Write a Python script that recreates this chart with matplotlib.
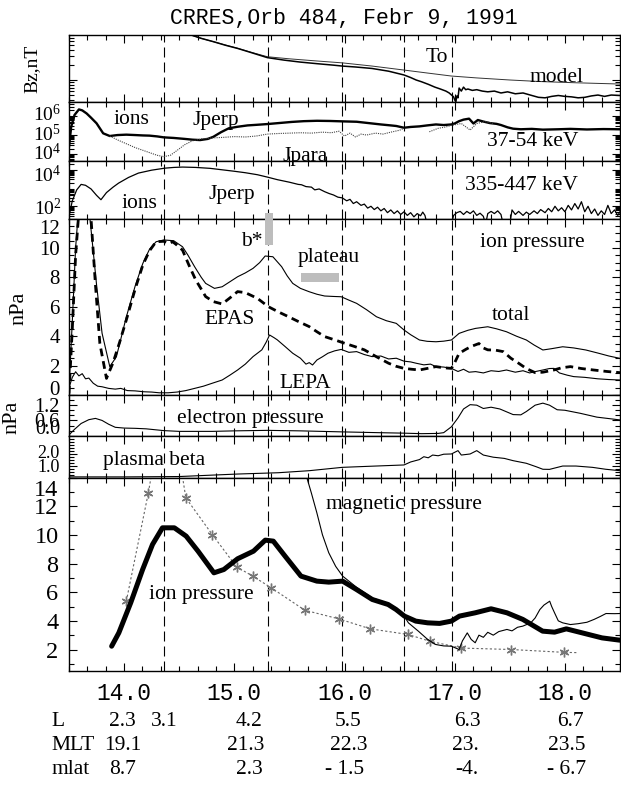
import matplotlib
matplotlib.use("Agg")
import matplotlib.pyplot as plt
import matplotlib.transforms as mtransforms
from matplotlib.patches import Rectangle
from matplotlib.ticker import (MultipleLocator, AutoMinorLocator, FixedLocator,
                               LogLocator, NullFormatter, FixedFormatter)
import numpy as np

plt.rcParams['font.family'] = ['Liberation Serif', 'DejaVu Serif']
plt.rcParams['mathtext.fontset'] = 'custom'
plt.rcParams['mathtext.rm'] = 'Liberation Serif'
plt.rcParams['mathtext.it'] = 'Liberation Serif:italic'
plt.rcParams['mathtext.bf'] = 'Liberation Serif:bold'

NAN = float('nan')

# ---------------- data (UT hours, values) ----------------
event_times = [14.36, 15.31, 15.98, 16.54, 16.98]

bz_model = [(14.60, 805), (14.70, 680), (14.81, 584), (14.92, 500), (15.03, 431), (15.15, 360),
            (15.30, 292), (15.50, 265), (15.75, 240), (15.98, 220), (16.25, 190), (16.54, 158),
            (16.75, 138), (16.97, 120), (17.20, 110), (17.50, 100), (17.78, 93), (18.10, 88),
            (18.50, 83)]
bz_obs = [(14.60, 805), (14.70, 680), (14.81, 584), (14.92, 495), (15.03, 428), (15.15, 355),
          (15.30, 280), (15.45, 250), (15.60, 228), (15.75, 212), (15.90, 198), (15.98, 190),
          (16.10, 182), (16.25, 170), (16.40, 150), (16.54, 126), (16.60, 112), (16.65, 100),
          (16.70, 92), (16.76, 82), (16.82, 72), (16.87, 66), (16.92, 60), (16.95, 55),
          (16.99, 46), (17.00, 40), (17.01, 37), (17.02, 48), (17.03, 44), (17.04, 69),
          (17.06, 60), (17.08, 72), (17.10, 64), (17.12, 66), (17.16, 62), (17.20, 64),
          (17.25, 60), (17.30, 58), (17.36, 60), (17.42, 55), (17.48, 58), (17.55, 53),
          (17.62, 55), (17.70, 49), (17.76, 45), (17.82, 44), (17.88, 47), (17.94, 49),
          (18.00, 47), (18.06, 46), (18.12, 44), (18.18, 45), (18.24, 48), (18.30, 50),
          (18.36, 47), (18.42, 50), (18.50, 49)]

# 37-54 keV ions, log10 flux
jperp_lo = [(13.50, 4.39), (13.52, 5.43), (13.55, 6.04), (13.59, 6.33), (13.62, 6.28), (13.66, 6.12),
            (13.70, 5.9), (13.75, 5.61), (13.81, 5.09), (13.87, 4.95), (13.94, 5.0), (14.02, 5.02),
            (14.10, 5.0), (14.17, 4.98), (14.23, 4.97), (14.30, 4.93), (14.36, 4.88), (14.45, 4.85),
            (14.55, 4.8), (14.62, 4.76), (14.69, 4.74), (14.76, 4.8), (14.81, 4.91), (14.88, 5.15),
            (14.95, 5.35), (15.03, 5.43), (15.12, 5.5), (15.20, 5.53), (15.30, 5.57), (15.40, 5.62),
            (15.52, 5.68), (15.63, 5.72), (15.75, 5.74), (15.87, 5.73), (15.98, 5.71), (16.11, 5.69),
            (16.22, 5.62), (16.33, 5.55), (16.42, 5.5), (16.47, 5.47), (16.54, 5.38), (16.60, 5.42),
            (16.68, 5.45), (16.75, 5.5), (16.83, 5.55), (16.90, 5.52), (16.97, 5.55), (17.00, 5.6),
            (17.04, 5.72), (17.08, 5.8), (17.13, 5.85), (17.17, 5.6), (17.21, 5.78), (17.26, 5.7),
            (17.32, 5.62), (17.38, 5.58), (17.42, 5.52), (17.48, 5.4), (17.53, 5.33), (17.60, 5.3),
            (17.70, 5.32), (17.80, 5.28), (17.94, 5.3), (18.05, 5.32), (18.20, 5.29), (18.35, 5.31),
            (18.50, 5.3)]
jpara_lo = [(13.87, 4.95), (13.94, 4.75), (14.00, 4.6), (14.10, 4.35), (14.20, 4.15), (14.30, 3.95),
            (14.36, 3.88), (14.42, 3.95), (14.48, 4.2), (14.55, 4.5), (14.62, 4.7), (14.70, 4.8),
            (14.80, 4.85), (14.90, 4.88), (15.00, 4.92), (15.10, 4.9), (15.20, 4.95), (15.30, 5.05),
            (15.40, 5.08), (15.50, 5.1), (15.60, 5.12), (15.70, 5.1), (15.80, 5.15), (15.88, 5.12),
            (15.95, 5.2), (16.00, 4.95), (16.05, 5.1), (16.10, 4.9), (16.15, 5.05), (16.20, 5.0),
            (16.28, 5.1), (16.35, 5.05), (16.42, 5.15), (16.50, 5.25), (16.54, 5.35), (16.56, NAN),
            (16.77, 5.17), (16.85, 5.35), (16.92, 5.42), (16.97, 5.5), (17.06, 5.6), (17.14, 5.26),
            (17.20, 5.6), (17.28, 5.7), (17.35, 5.6)]

# 335-447 keV ions, log10 flux (values below the axis = off scale)
jperp_hi = [(13.50, 1.45), (13.53, 2.3), (13.57, 2.9), (13.61, 3.2), (13.65, 3.15), (13.70, 2.95),
            (13.75, 2.6), (13.79, 2.36), (13.84, 2.75), (13.90, 3.05), (13.95, 3.27), (14.04, 3.58),
            (14.13, 3.82), (14.25, 3.98), (14.37, 4.09), (14.45, 4.13), (14.53, 4.15), (14.65, 4.13),
            (14.78, 4.08), (14.89, 4.0), (15.00, 3.92), (15.10, 3.84), (15.21, 3.73), (15.30, 3.6),
            (15.39, 3.46), (15.50, 3.32), (15.58, 3.2), (15.61, 3.18), (15.65, 3.08), (15.70, 3.05),
            (15.73, 2.9), (15.77, 2.95), (15.82, 2.8), (15.86, 2.7), (15.90, 2.62), (15.94, 2.5),
            (15.98, 2.46), (16.02, 2.3), (16.05, 2.38), (16.08, 2.15), (16.11, 2.25), (16.15, 2.05),
            (16.18, 2.12), (16.21, 1.9), (16.24, 2.0), (16.27, 1.82), (16.30, 1.95), (16.33, 1.75),
            (16.36, 1.88), (16.39, 1.65), (16.42, 1.8), (16.45, 1.6), (16.48, 1.75), (16.51, 1.55),
            (16.54, 1.7), (16.57, 1.5), (16.60, 1.65), (16.63, 1.42), (16.66, 1.6), (16.69, 1.48),
            (16.71, 1.68), (16.73, 1.5), (16.75, 1.0), (16.97, 1.0), (16.99, 1.5), (17.02, 1.65),
            (17.05, 1.72), (17.08, 1.55), (17.11, 1.72), (17.14, 1.6), (17.17, 1.75), (17.20, 1.5),
            (17.23, 1.62), (17.26, 1.45), (17.28, 1.0), (17.30, 1.6), (17.33, 1.72), (17.36, 1.6),
            (17.39, 1.75), (17.42, 1.55), (17.44, 1.0), (17.50, 1.0), (17.52, 1.8), (17.55, 1.55),
            (17.58, 1.72), (17.62, 1.5), (17.65, 1.68), (17.68, 1.55), (17.72, 1.75), (17.75, 1.6),
            (17.78, 1.82), (17.82, 1.65), (17.85, 1.88), (17.88, 1.7), (17.91, 2.0), (17.94, 1.75),
            (17.97, 1.92), (18.00, 1.7), (18.03, 2.05), (18.06, 1.8), (18.09, 2.15), (18.12, 1.85),
            (18.15, 2.25), (18.18, 1.7), (18.21, 2.0), (18.24, 1.6), (18.27, 1.85), (18.30, 1.5),
            (18.33, 1.75), (18.36, 1.55), (18.39, 2.05), (18.42, 1.6), (18.45, 1.8), (18.48, 1.5),
            (18.50, 1.7)]

# ion pressure components, nPa
p_total = [(13.50, 0.4), (13.53, 5.0), (13.56, 10.0), (13.58, 12.0), (13.61, 14.0), (13.66, 14.0),
           (13.69, 12.0), (13.75, 7.5), (13.80, 4.2), (13.87, 1.93), (13.93, 2.6), (13.97, 3.8),
           (14.02, 5.3), (14.10, 7.4), (14.17, 8.95), (14.23, 9.9), (14.29, 10.42), (14.36, 10.54),
           (14.45, 10.49), (14.53, 10.08), (14.58, 9.5), (14.64, 8.72), (14.70, 8.0), (14.74, 7.59),
           (14.82, 7.25), (14.89, 7.36), (14.96, 7.7), (15.03, 8.04), (15.10, 8.3), (15.17, 8.61),
           (15.23, 9.0), (15.28, 9.45), (15.35, 9.4), (15.43, 8.72), (15.48, 8.1), (15.53, 7.59),
           (15.60, 7.25), (15.68, 7.02), (15.75, 6.85), (15.82, 6.73), (15.90, 6.7), (15.97, 6.68),
           (16.04, 6.45), (16.11, 6.23), (16.20, 5.8), (16.29, 5.32), (16.38, 5.05), (16.47, 4.87),
           (16.54, 4.42), (16.60, 4.1), (16.68, 3.74), (16.75, 3.65), (16.83, 3.62), (16.90, 3.66),
           (16.97, 3.74), (17.04, 4.19), (17.12, 4.4), (17.19, 4.53), (17.30, 4.64), (17.38, 4.5),
           (17.47, 4.3), (17.56, 4.0), (17.65, 3.74), (17.72, 3.4), (17.80, 3.06), (17.88, 3.15),
           (17.98, 3.28), (18.08, 3.2), (18.19, 3.06), (18.30, 2.85), (18.40, 2.65), (18.50, 2.49)]
p_epas = [(13.50, 0.1), (13.53, 4.5), (13.56, 9.5), (13.585, 12.0), (13.62, 14.0), (13.67, 14.0),
          (13.70, 12.0), (13.74, 7.5), (13.78, 3.5), (13.84, 1.13), (13.90, 2.2), (13.96, 3.6),
          (14.02, 5.1), (14.10, 7.2), (14.17, 8.84), (14.23, 9.8), (14.29, 10.42), (14.36, 10.45),
          (14.41, 10.3), (14.44, 10.42), (14.47, 10.25), (14.53, 9.85), (14.59, 8.8), (14.65, 7.82),
          (14.70, 7.2), (14.74, 6.69), (14.81, 6.35), (14.89, 6.19), (14.96, 6.6), (15.03, 7.03),
          (15.10, 6.96), (15.21, 6.57), (15.31, 6.0), (15.40, 5.65), (15.49, 5.33), (15.58, 5.0),
          (15.68, 4.65), (15.75, 4.3), (15.82, 3.97), (15.91, 3.75), (16.00, 3.52), (16.09, 3.3),
          (16.18, 3.07), (16.29, 2.6), (16.40, 2.16), (16.47, 1.95), (16.54, 1.81), (16.61, 1.75),
          (16.68, 1.7), (16.76, 1.82), (16.83, 1.93), (16.90, 1.85), (16.97, 1.81), (17.00, 2.2),
          (17.04, 2.83), (17.10, 3.1), (17.15, 3.3), (17.22, 3.5), (17.26, 3.2), (17.30, 3.07),
          (17.37, 3.05), (17.44, 2.95), (17.51, 2.5), (17.58, 2.16), (17.65, 1.8), (17.73, 1.52),
          (17.80, 1.55), (17.90, 1.7), (17.97, 1.85), (18.05, 1.93), (18.15, 1.8), (18.26, 1.7),
          (18.38, 1.6), (18.50, 1.52)]
p_lepa = [(13.50, 0.5), (13.53, 1.2), (13.56, 1.58), (13.59, 1.3), (13.62, 1.45), (13.65, 1.1),
          (13.68, 1.15), (13.72, 0.8), (13.76, 0.6), (13.80, 0.56), (13.86, 0.45), (13.92, 0.4),
          (13.97, 0.45), (14.03, 0.3), (14.10, 0.28), (14.18, 0.22), (14.25, 0.2), (14.32, 0.15),
          (14.40, 0.15), (14.48, 0.2), (14.56, 0.3), (14.64, 0.45), (14.72, 0.6), (14.80, 0.8),
          (14.89, 1.02), (14.96, 1.35), (15.03, 1.7), (15.10, 2.1), (15.17, 2.61), (15.25, 3.07),
          (15.29, 3.6), (15.32, 4.08), (15.36, 3.9), (15.39, 3.75), (15.46, 3.3), (15.53, 2.84),
          (15.60, 2.5), (15.65, 2.1), (15.68, 2.2), (15.71, 2.04), (15.75, 2.38), (15.80, 2.6),
          (15.85, 2.84), (15.91, 3.0), (15.97, 3.1), (16.04, 2.9), (16.11, 2.95), (16.18, 2.75),
          (16.25, 2.61), (16.33, 2.65), (16.40, 2.45), (16.47, 2.5), (16.54, 2.3), (16.60, 2.25),
          (16.65, 2.16), (16.72, 2.05), (16.78, 2.1), (16.83, 1.93), (16.90, 1.9), (16.97, 1.81),
          (17.03, 1.6), (17.08, 1.75), (17.13, 1.55), (17.19, 1.59), (17.26, 1.5), (17.33, 1.65),
          (17.40, 1.6), (17.47, 1.7), (17.55, 1.55), (17.62, 1.65), (17.68, 1.5), (17.73, 1.59),
          (17.80, 1.7), (17.86, 1.8), (17.90, 1.81), (17.95, 1.5), (18.02, 1.35), (18.08, 1.25),
          (18.18, 1.2), (18.30, 1.1), (18.40, 1.05), (18.50, 1.02)]

p_electron = [(13.50, 0.03), (13.55, 0.25), (13.61, 0.48), (13.68, 0.63), (13.74, 0.68), (13.80, 0.6),
              (13.86, 0.45), (13.92, 0.33), (14.00, 0.3), (14.10, 0.29), (14.20, 0.27), (14.36, 0.2),
              (14.50, 0.17), (14.80, 0.17), (15.00, 0.19), (15.30, 0.21), (15.60, 0.19), (15.98, 0.15),
              (16.30, 0.12), (16.54, 0.1), (16.70, 0.08), (16.85, 0.09), (16.90, 0.12), (16.97, 0.35),
              (17.03, 0.7), (17.08, 1.05), (17.14, 1.22), (17.20, 1.2), (17.26, 1.07), (17.33, 1.12),
              (17.41, 1.05), (17.53, 0.83), (17.60, 0.82), (17.65, 0.95), (17.73, 1.2), (17.80, 1.28),
              (17.86, 1.2), (17.93, 1.02), (18.00, 1.0), (18.14, 0.88), (18.29, 0.73), (18.50, 0.62)]
plasma_beta = [(13.50, 0.05), (14.00, 0.05), (14.50, 0.08), (14.80, 0.2), (15.03, 0.29), (15.40, 0.4),
               (15.68, 0.57), (15.98, 0.85), (16.20, 0.93), (16.54, 1.05), (16.60, 1.3), (16.68, 1.5),
               (16.72, 1.74), (16.76, 1.65), (16.80, 1.88), (16.85, 1.82), (16.90, 1.95), (16.97, 1.97),
               (17.03, 2.25), (17.06, 1.88), (17.14, 1.97), (17.20, 2.25), (17.26, 1.88), (17.35, 1.7),
               (17.45, 1.6), (17.53, 1.41), (17.65, 1.19), (17.74, 0.9), (17.80, 0.69), (17.86, 0.68),
               (17.98, 0.96), (18.10, 0.96), (18.25, 0.85), (18.37, 0.69), (18.50, 0.57)]

ion_pressure = [(13.887, 2.23), (13.952, 3.16), (14.06, 5.26), (14.168, 7.58), (14.258, 9.33),
                (14.348, 10.49), (14.456, 10.49), (14.563, 9.91), (14.671, 8.86), (14.815, 7.35),
                (14.905, 7.58), (15.03, 8.33), (15.174, 8.86), (15.281, 9.63), (15.354, 9.56),
                (15.461, 8.51), (15.605, 7.12), (15.749, 6.77), (15.857, 6.70), (15.983, 6.77),
                (16.108, 6.19), (16.252, 5.49), (16.396, 5.14), (16.468, 4.79), (16.544, 4.33),
                (16.647, 3.98), (16.755, 3.86), (16.863, 3.82), (16.97, 3.98), (17.043, 4.33),
                (17.186, 4.56), (17.33, 4.84), (17.474, 4.56), (17.618, 4.1), (17.798, 3.28),
                (17.906, 3.21), (18.013, 3.44), (18.157, 3.16), (18.337, 2.81), (18.498, 2.65)]
magnetic_pressure = [(15.63, 15.5), (15.658, 14.0), (15.70, 12.9), (15.749, 11.54), (15.80, 10.0),
                     (15.857, 8.75), (15.92, 7.8), (15.983, 7.12), (16.108, 6.35), (16.252, 5.6),
                     (16.396, 5.2), (16.468, 4.9), (16.544, 4.3), (16.58, 3.86), (16.67, 3.28),
                     (16.755, 2.70), (16.827, 2.35), (16.90, 2.25), (16.97, 2.23), (17.04, 2.0),
                     (17.07, 2.6), (17.114, 3.16), (17.15, 2.7), (17.186, 2.47), (17.22, 3.0),
                     (17.26, 2.85), (17.30, 3.2), (17.35, 3.0), (17.40, 3.25), (17.474, 3.40),
                     (17.52, 3.3), (17.57, 3.55), (17.618, 3.63), (17.69, 3.86), (17.73, 4.2),
                     (17.773, 4.79), (17.81, 5.1), (17.862, 5.37), (17.88, 5.0), (17.906, 4.56),
                     (17.94, 4.0), (17.98, 3.86), (18.05, 3.74), (18.12, 3.8), (18.20, 3.9),
                     (18.265, 4.1), (18.32, 4.3), (18.373, 4.51), (18.45, 4.5), (18.498, 4.51)]
model_stars = [(14.02, 5.37), (14.22, 12.93), (14.56, 12.58), (14.80, 10.02), (15.02, 7.77),
               (15.167, 7.12), (15.336, 6.30), (15.64, 4.74), (15.947, 4.14), (16.234, 3.44),
               (16.576, 3.05), (16.773, 2.58), (17.06, 2.1), (17.51, 2.0), (17.995, 1.8)]
model_curve = [(14.02, 5.37), (14.22, 12.93), (14.30, 16.5), (14.48, 16.5), (14.56, 12.58),
               (14.80, 10.02), (15.02, 7.77), (15.167, 7.12), (15.336, 6.30), (15.64, 4.74),
               (15.947, 4.14), (16.234, 3.44), (16.576, 3.05), (16.773, 2.58), (17.06, 2.1),
               (17.51, 2.0), (17.995, 1.8), (18.12, 1.78)]

hour_ticks = [14, 15, 16, 17, 18]
hour_labels = ['14.0', '15.0', '16.0', '17.0', '18.0']
orbit_rows = [
    ('L',    ['2.3', '3.1', '4.2', '5.5', '6.3', '6.7'],        [122.8, 164.4, 249.5, 348.5, 467.3, 570.3]),
    ('MLT',  ['19.1', '21.3', '22.3', '23.', '23.5'],           [122.8, 245.5, 348.5, 465.3, 566.3]),
    ('mlat', ['8.7', '2.3', '- 1.5', '-4.', '- 6.7'],           [122.8, 249.5, 344.6, 467.3, 566.3]),
]

# ---------------- figure ----------------
W, H = 621, 785
fig = plt.figure(figsize=(W / 100, H / 100), dpi=100)
LEFT, RIGHT = 69, 620
bounds = [34.7, 101.7, 160.5, 218.5, 395.0, 435.7, 477.5, 671.0]


def xy(pairs):
    a = np.array(pairs, dtype=float)
    return a[:, 0], a[:, 1]


def make_ax(i):
    top, bot = bounds[i], bounds[i + 1]
    ax = fig.add_axes([LEFT / W, 1 - bot / H, (RIGHT - LEFT) / W, (bot - top) / H])
    ax.set_xlim(13.5, 18.5)
    ax.xaxis.set_major_locator(FixedLocator(hour_ticks))
    ax.xaxis.set_minor_locator(AutoMinorLocator(6))
    ax.tick_params(which='both', direction='in', top=True, right=True, width=0.8,
                   labelbottom=False)
    ax.tick_params(which='major', length=6)
    ax.tick_params(which='minor', length=3.5)
    for s in ax.spines.values():
        s.set_linewidth(1.0)
    for t in event_times:
        ax.axvline(t, color='k', lw=0.8, dashes=(9, 4.5), zorder=1)
    return ax


def shift_label(ax, idx, dy_px):
    lab = ax.yaxis.get_major_ticks()[idx].label1
    lab.set_transform(lab.get_transform() +
                      mtransforms.ScaledTranslation(0, -dy_px / 100.0, fig.dpi_scale_trans))


def ftext(x, y, s, size=15.5, ha='center', **kw):
    fig.text(x / W, 1 - y / H, s, fontsize=size, ha=ha, va='center', **kw)


axs = [make_ax(i) for i in range(7)]
ax1, ax2, ax3, ax4, ax5, ax6, ax7 = axs

# Panel 1: Bz
ax1.set_yscale('log')
ax1.set_ylim(36.8, 805)
ax1.yaxis.set_major_locator(FixedLocator([100]))
ax1.yaxis.set_minor_locator(LogLocator(base=10, subs=np.arange(2, 10)))
ax1.yaxis.set_major_formatter(NullFormatter())
ax1.yaxis.set_minor_formatter(NullFormatter())
t, v = xy(bz_model)
ax1.plot(t, v, color='#333333', lw=0.7)
t, v = xy(bz_obs)
ax1.plot(t, v, color='k', lw=1.1)

# Panel 2: 37-54 keV
ax2.set_yscale('log')
ax2.set_ylim(10 ** 3.68, 10 ** 6.73)
ax2.yaxis.set_major_locator(FixedLocator([1e4, 1e5, 1e6]))
ax2.yaxis.set_major_formatter(FixedFormatter([r'$10^{4}$', r'$10^{5}$', r'$10^{6}$']))
ax2.yaxis.set_minor_locator(LogLocator(base=10, subs=np.arange(2, 10)))
ax2.yaxis.set_minor_formatter(NullFormatter())
t, v = xy(jperp_lo)
ax2.plot(t, 10 ** v, color='k', lw=1.7)
t, v = xy(jpara_lo)
ax2.plot(t, 10 ** v, color='#444444', lw=0.8, linestyle=(0, (1, 1)))

# Panel 3: 335-447 keV
ax3.set_yscale('log')
ax3.set_ylim(10 ** 1.33, 10 ** 4.51)
ax3.yaxis.set_major_locator(FixedLocator([1e2, 1e4]))
ax3.yaxis.set_major_formatter(FixedFormatter([r'$10^{2}$', r'$10^{4}$']))
ax3.yaxis.set_minor_locator(LogLocator(base=10, subs=np.arange(2, 10)))
ax3.yaxis.set_minor_formatter(NullFormatter())
t, v = xy(jperp_hi)
ax3.plot(t, 10 ** v, color='k', lw=0.9)

# Panel 4: ion pressure components
ax4.set_ylim(0, 12)
ax4.yaxis.set_major_locator(FixedLocator([0, 2, 4, 6, 8, 10, 12]))
ax4.yaxis.set_major_formatter(FixedFormatter(['0', '2', '4', '6', '8', '10', '12']))
ax4.yaxis.set_minor_locator(MultipleLocator(0.5))
t, v = xy(p_total)
ax4.plot(t, v, color='k', lw=0.8)
t, v = xy(p_epas)
ax4.plot(t, v, color='k', lw=2.0, dashes=(2.8, 1.8))
t, v = xy(p_lepa)
ax4.plot(t, v, color='k', lw=0.8)
ax4.add_patch(Rectangle((15.275, 10.2), 0.08, 2.15, color='#bdbdbd', lw=0, clip_on=False, zorder=3))
ax4.add_patch(Rectangle((15.605, 7.70), 0.342, 0.57, color='#bdbdbd', lw=0, zorder=3))

# Panel 5: electron pressure
ax5.set_ylim(0, 1.6)
ax5.yaxis.set_major_locator(FixedLocator([0.0, 0.6, 1.2]))
ax5.yaxis.set_major_formatter(FixedFormatter(['0.0', '0.6', '1.2']))
ax5.yaxis.set_minor_locator(MultipleLocator(0.2))
t, v = xy(p_electron)
ax5.plot(t, v, color='k', lw=0.8)

# Panel 6: plasma beta
ax6.set_ylim(0, 3.5)
ax6.yaxis.set_major_locator(FixedLocator([1.0, 2.0]))
ax6.yaxis.set_major_formatter(FixedFormatter(['1.0', '2.0']))
ax6.yaxis.set_minor_locator(MultipleLocator(0.25))
t, v = xy(plasma_beta)
ax6.plot(t, v, color='k', lw=0.8)

# Panel 7: pressure balance
ax7.set_ylim(0.5, 14)
ax7.yaxis.set_major_locator(FixedLocator([2, 4, 6, 8, 10, 12, 14]))
ax7.yaxis.set_major_formatter(FixedFormatter(['2', '4', '6', '8', '10', '12', '14']))
ax7.yaxis.set_minor_locator(MultipleLocator(1))
t, v = xy(model_curve)
ax7.plot(t, v, color='#666666', lw=0.8, linestyle=(0, (2, 2)))
t, v = xy(model_stars)
ax7.plot(t, v, linestyle='none', marker=(6, 2, 0), ms=7, mew=1.0, color='#777777')
t, v = xy(magnetic_pressure)
ax7.plot(t, v, color='k', lw=0.8)
t, v = xy(ion_pressure)
ax7.plot(t, v, color='k', lw=3.6, solid_capstyle='round')

ax7.set_xticks(hour_ticks)
ax7.set_xticklabels(hour_labels, family='Liberation Mono', fontsize=16.5)
ax7.tick_params(axis='x', which='major', labelbottom=True, pad=8)

# y tick label styling
for ax, size, pad in [(ax2, 14, 5.5), (ax3, 14, 5.5), (ax4, 15, 6.5), (ax5, 14.5, 6.5),
                      (ax6, 13, 6.5), (ax7, 17.5, 7.5)]:
    ax.tick_params(axis='y', which='major', labelsize=size, pad=pad)

shift_label(ax2, 0, -3)    # "10^4" (37-54 keV)
shift_label(ax2, 1, -3)
shift_label(ax2, 2, -3)
shift_label(ax3, 1, 4)     # "10^4" (335-447 keV)
shift_label(ax4, 6, 8)     # "12"
shift_label(ax4, 0, -7)    # "0"
shift_label(ax5, 0, -9)    # "0.0"
shift_label(ax6, 1, -2)    # "2.0"
shift_label(ax7, 6, 10)    # "14"

# ---------------- texts ----------------
ftext(343.5, 18, 'CRRES,Orb 484, Febr 9, 1991', size=15.5, family='Liberation Mono')
ftext(32, 69, 'Bz,nT', size=14, rotation=90)
ftext(19, 308, 'nPa', size=16, rotation=90)
ftext(12, 417, 'nPa', size=16, rotation=90)

ftext(437, 57, 'To')
ftext(557, 78, 'model')
ftext(131, 120, 'ions')
ftext(216, 120, 'Jperp')
ftext(533, 142, '37-54 keV')
ftext(305, 156, 'Jpara')
ftext(232, 195, 'Jperp')
ftext(139, 204, 'ions')
ftext(521, 185, '335-447 keV')
ftext(252, 242, 'b*')
ftext(329, 258, 'plateau')
ftext(532, 242, 'ion pressure')
ftext(230, 320, 'EPAS')
ftext(511, 315, 'total')
ftext(305, 383, 'LEPA')
ftext(250, 418, 'electron pressure')
ftext(154, 460, 'plasma beta')
ftext(404, 505, 'magnetic pressure')
ftext(201, 595, 'ion pressure')

for (name, vals, xs), ypx in zip(orbit_rows, [722, 746, 770]):
    ftext(51.5, ypx, name, ha='left')
    for s, xp in zip(vals, xs):
        ftext(xp, ypx, s)

fig.savefig('out.png', dpi=100)
